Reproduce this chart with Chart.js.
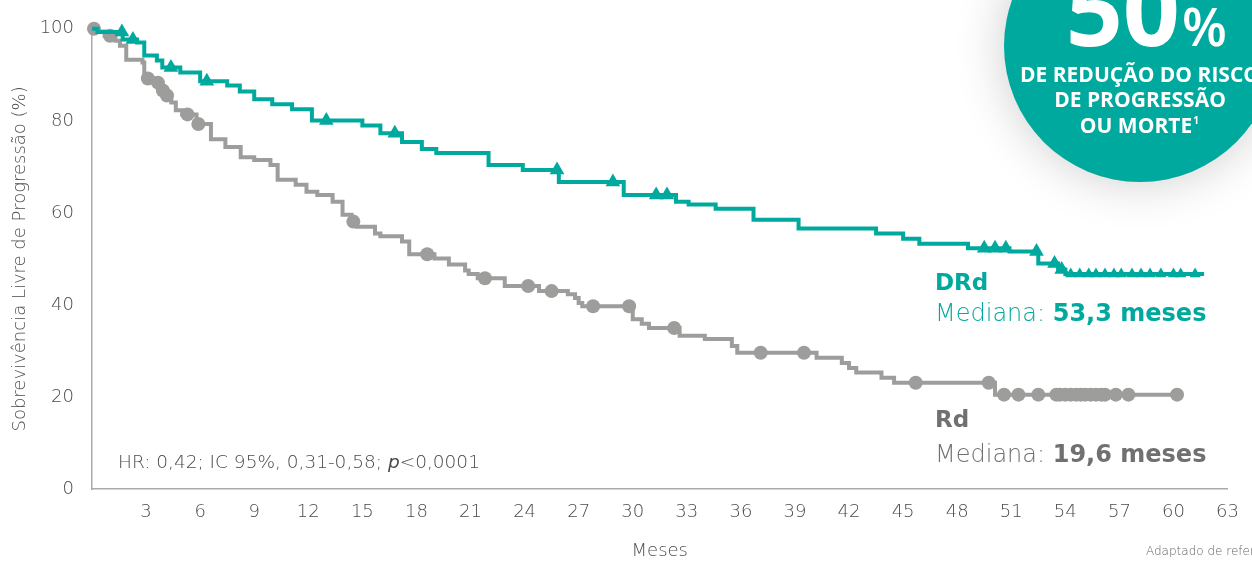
<!DOCTYPE html>
<html lang="pt">
<head>
<meta charset="utf-8">
<script src="https://cdn.jsdelivr.net/npm/chart.js@4.4.0/dist/chart.umd.min.js"></script>
<style>
  html, body { margin: 0; padding: 0; background: #fff; }
  #wrap { width: 1252px; height: 561px; position: relative; }
</style>
</head>
<body>
<div id="wrap"><canvas id="kmChart"></canvas></div>
<script>
// DRd: meses em que a curva cai e sobrevida (%) depois de cada queda
const drdTimes = [0, 0.3, 1.7, 2.5, 2.9, 3.6, 3.9, 4.9, 6.0, 7.5, 8.2, 9.0, 10.0, 11.1, 12.2, 15.0, 16.0, 17.2, 18.3, 19.1,
  22.0, 23.9, 25.9, 29.5, 32.4, 33.1, 34.6, 36.7, 39.2, 43.5, 45.0, 45.9, 48.6, 50.9, 52.5, 53.6, 54.0];
const drdValues = [100, 99.3, 97.7, 97.0, 94.2, 93.1, 91.6, 90.5, 88.6, 87.7, 86.4, 84.7, 83.6, 82.5, 80.1, 79.0, 77.3, 75.4, 73.9, 73.0,
  70.4, 69.3, 66.7, 63.9, 62.4, 61.8, 60.9, 58.5, 56.6, 55.5, 54.4, 53.3, 52.3, 51.6, 49.0, 47.7, 46.7];
const drdEnd = 61.7;
const drdCensored = [1.66, 2.27, 4.38, 6.37, 13.0, 16.8, 25.8, 28.9, 31.3, 31.9, 49.5, 50.1, 50.7, 52.4, 53.4, 53.8,
  54.3, 54.8, 55.3, 55.7, 56.2, 56.7, 57.1, 57.7, 58.2, 58.7, 59.3, 60.0, 60.4, 61.2];

// Rd
const rdTimes = [0, 0.3, 0.7, 1.3, 1.55, 1.9, 2.8, 2.9, 3.5, 3.8, 4.0, 4.4, 4.65, 5.0, 5.8, 6.6, 7.4, 8.25, 9.0, 9.9,
  10.3, 11.3, 11.9, 12.5, 13.35, 13.9, 14.4, 14.7, 15.7, 16.0, 17.2, 17.6, 19.0, 19.8, 20.7, 20.9, 21.4, 22.9, 24.8, 26.4,
  26.8, 27.0, 27.2, 30.0, 30.5, 30.9, 32.6, 34.0, 35.5, 35.8, 40.2, 41.6, 42.0, 42.4, 43.8, 44.5, 50.1];
const rdValues = [100, 99.4, 98.5, 97.4, 96.3, 93.3, 92.7, 89.2, 88.3, 86.6, 85.5, 84.0, 82.3, 81.4, 79.3, 76.0, 74.3, 72.1, 71.5, 70.4,
  67.2, 66.1, 64.6, 63.9, 62.4, 59.6, 58.1, 57.0, 55.5, 54.9, 53.8, 51.0, 50.1, 48.8, 47.5, 46.7, 45.8, 44.1, 43.0, 42.3,
  41.5, 40.4, 39.7, 36.9, 35.9, 35.0, 33.3, 32.6, 31.1, 29.6, 28.5, 27.4, 26.3, 25.3, 24.2, 23.1, 20.5];
const rdEnd = 60.4;
const rdCensored = [0.11, 1.0, 3.1, 3.66, 3.93, 4.16, 5.3, 5.9, 14.5, 18.6, 21.8, 24.2, 25.5, 27.8, 29.8, 32.3, 37.1, 39.5,
  45.7, 49.75, 50.6, 51.4, 52.5, 53.5, 53.7, 54.0, 54.3, 54.6, 54.85, 55.1, 55.4, 55.7, 56.0, 56.2, 56.8, 57.5, 60.2];

const xTicks = [3, 6, 9, 12, 15, 18, 21, 24, 27, 30, 33, 36, 39, 42, 45, 48, 51, 54, 57, 60, 63];
const yTicks = [0, 20, 40, 60, 80, 100];

const TEAL = "#00a99d";
const GREY = "#9d9d9c";
const TXT = "#4a4a4a";
const FONT = "'DejaVu Sans', sans-serif";
const BADGE_FONT = "'Open Sans', sans-serif";

function curve(times, values, end) {
  let pts = times.map((t, i) => ({ x: t, y: values[i] }));
  pts.push({ x: end, y: values[values.length - 1] });
  return pts;
}

function stepAt(times, values, t) {
  let v = values[0];
  for (let i = 0; i < times.length; i++) {
    if (times[i] <= t) v = values[i];
  }
  return v;
}

function marks(censored, times, values) {
  return censored.map(t => ({ x: t, y: stepAt(times, values, t) }));
}

// textos desenhados por cima do gráfico
const annotations = {
  id: "annotations",
  afterDraw(chart) {
    const ctx = chart.ctx;
    ctx.save();

    // HR
    ctx.textBaseline = "alphabetic";
    ctx.textAlign = "left";
    ctx.fillStyle = TXT;
    let x = 118;
    const hrParts = [["HR: 0,42; IC 95%, 0,31-0,58; ", "normal"], ["p", "italic"], ["<0,0001", "normal"]];
    hrParts.forEach(([s, st]) => {
      ctx.font = st + " 200 18.5px " + FONT;
      ctx.fillText(s, x, 468);
      x += ctx.measureText(s).width;
    });

    // rótulos das curvas
    function label(name, median, color, y1, y2) {
      ctx.fillStyle = color;
      ctx.font = "bold 23px " + FONT;
      ctx.fillText(name, 935, y1);
      ctx.font = "200 24px " + FONT;
      ctx.fillText("Mediana: ", 935, y2);
      let w = ctx.measureText("Mediana: ").width;
      ctx.font = "bold 24px " + FONT;
      ctx.fillText(median, 935 + w, y2);
    }
    label("DRd", "53,3 meses", TEAL, 290, 321);
    label("Rd", "19,6 meses", "#707070", 427, 462);

    // fonte
    ctx.fillStyle = "#666";
    ctx.font = "200 12px " + FONT;
    ctx.fillText("Adaptado de referência 1", 1146, 555);

    // selo 50%
    ctx.save();
    ctx.shadowColor = "rgba(0,0,0,0.2)";
    ctx.shadowBlur = 50;
    ctx.beginPath();
    ctx.arc(1140, 46, 136, 0, Math.PI * 2);
    ctx.fillStyle = TEAL;
    ctx.fill();
    ctx.restore();

    ctx.fillStyle = "#fff";
    ctx.textAlign = "right";
    ctx.font = "bold 100px " + BADGE_FONT;
    ctx.fillText("50", 1180, 46);
    ctx.textAlign = "left";
    ctx.font = "600 52px " + BADGE_FONT;
    ctx.fillText("%", 1182, 46);

    ctx.textAlign = "center";
    ctx.font = "bold 21px " + BADGE_FONT;
    ctx.fillText("DE REDUÇÃO DO RISCO", 1140, 82);
    ctx.fillText("DE PROGRESSÃO", 1140, 107);
    ctx.fillText("OU MORTE", 1136, 133);
    let mw = ctx.measureText("OU MORTE").width;
    ctx.font = "bold 10px " + BADGE_FONT;
    ctx.textAlign = "left";
    ctx.fillText("1", 1136 + mw / 2 + 1, 124);

    ctx.restore();
  }
};

const ctx = document.getElementById("kmChart");
new Chart(ctx, {
  type: "line",
  data: {
    datasets: [
      {
        label: "DRd censura",
        data: marks(drdCensored, drdTimes, drdValues),
        showLine: false,
        pointStyle: "triangle",
        pointRadius: c => (c.raw && c.raw.x > 54 ? 6.5 : 8.5),
        pointBackgroundColor: TEAL,
        pointBorderWidth: 0,
        clip: false
      },
      {
        label: "DRd",
        data: curve(drdTimes, drdValues, drdEnd),
        stepped: "before",
        borderColor: TEAL,
        borderWidth: 4,
        pointRadius: 0,
        fill: false,
        clip: false
      },
      {
        label: "Rd censura",
        data: marks(rdCensored, rdTimes, rdValues),
        showLine: false,
        pointStyle: "circle",
        pointRadius: 7,
        pointBackgroundColor: GREY,
        pointBorderWidth: 0,
        clip: false
      },
      {
        label: "Rd",
        data: curve(rdTimes, rdValues, rdEnd),
        stepped: "before",
        borderColor: GREY,
        borderWidth: 4,
        pointRadius: 0,
        fill: false,
        clip: false
      }
    ]
  },
  options: {
    responsive: true,
    maintainAspectRatio: false,
    animation: false,
    layout: { padding: { top: 26, right: 23, left: 0, bottom: 0 } },
    plugins: { legend: { display: false }, tooltip: { enabled: false } },
    scales: {
      x: {
        type: "linear",
        min: 0,
        max: 63,
        afterBuildTicks: s => { s.ticks = xTicks.map(v => ({ value: v })); },
        afterFit: s => { s.height = 72; },
        grid: { display: false, drawTicks: false },
        border: { display: true, color: "#aaaaaa", width: 1.5 },
        ticks: { color: TXT, font: { family: FONT, size: 18, weight: 200 }, padding: 13, maxRotation: 0, autoSkip: false },
        title: { display: true, text: "Meses", color: TXT, font: { family: FONT, size: 18, weight: 200 }, padding: { top: 0, bottom: -1 } }
      },
      y: {
        min: 0,
        max: 100,
        afterBuildTicks: s => { s.ticks = yTicks.map(v => ({ value: v })); },
        afterFit: s => { s.width = 92; },
        grid: { display: false, drawTicks: false },
        border: { display: true, color: "#aaaaaa", width: 1.5 },
        ticks: { color: TXT, font: { family: FONT, size: 18, weight: 200 }, padding: 18 },
        title: { display: true, text: "Sobrevivência Livre de Progressão (%)", color: TXT, font: { family: FONT, size: 18, weight: 200 }, padding: { top: 10, bottom: 0 } }
      }
    }
  },
  plugins: [annotations]
});
</script>
</body>
</html>
